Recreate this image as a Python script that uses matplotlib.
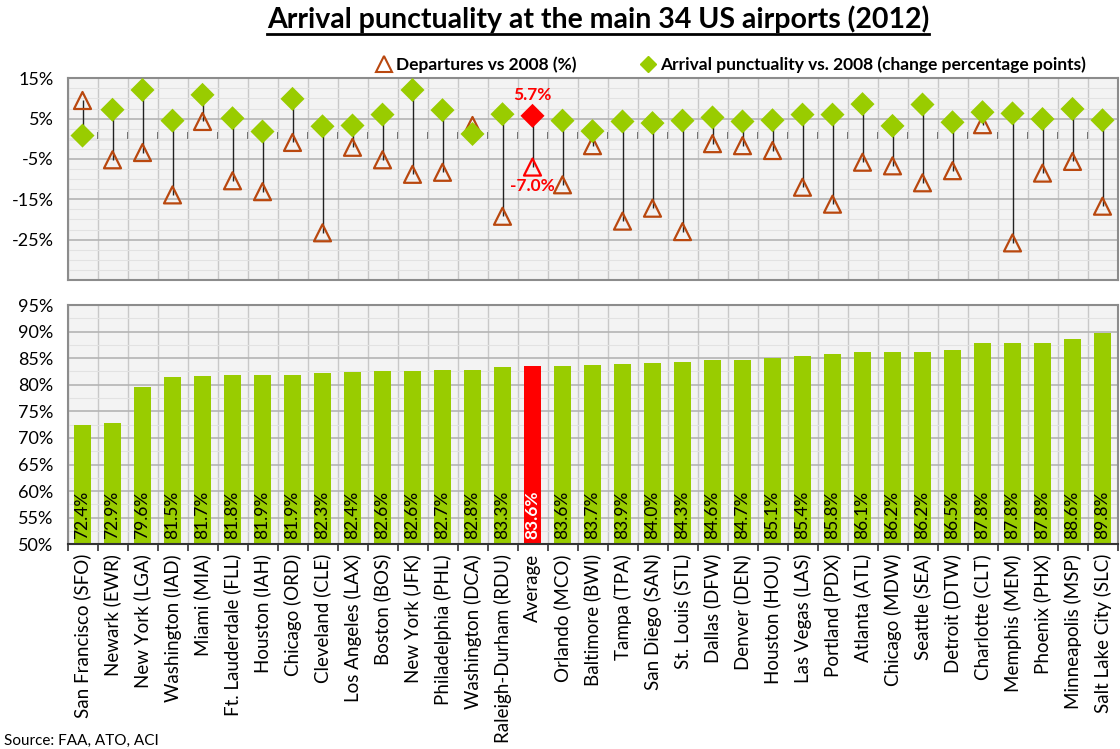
import matplotlib
matplotlib.use("Agg")
import matplotlib.pyplot as plt
from matplotlib.lines import Line2D
from matplotlib.ticker import MultipleLocator, FixedLocator, NullFormatter
import numpy as np

plt.rcParams["font.family"] = ["Lato", "DejaVu Sans"]

airports = [
    "San Francisco (SFO)", "Newark (EWR)", "New York (LGA)", "Washington (IAD)",
    "Miami (MIA)", "Ft. Lauderdale (FLL)", "Houston (IAH)", "Chicago (ORD)",
    "Cleveland (CLE)", "Los Angeles (LAX)", "Boston (BOS)", "New York (JFK)",
    "Philadelphia (PHL)", "Washington (DCA)", "Raleigh-Durham (RDU)", "Average",
    "Orlando (MCO)", "Baltimore (BWI)", "Tampa (TPA)", "San Diego (SAN)",
    "St. Louis (STL)", "Dallas (DFW)", "Denver (DEN)", "Houston (HOU)",
    "Las Vegas (LAS)", "Portland (PDX)", "Atlanta (ATL)", "Chicago (MDW)",
    "Seattle (SEA)", "Detroit (DTW)", "Charlotte (CLT)", "Memphis (MEM)",
    "Phoenix (PHX)", "Minneapolis (MSP)", "Salt Lake City (SLC)",
]
punctuality = [
    72.4, 72.9, 79.6, 81.5, 81.7, 81.8, 81.9, 81.9, 82.3, 82.4, 82.6, 82.6,
    82.7, 82.8, 83.3, 83.6, 83.6, 83.7, 83.9, 84.0, 84.3, 84.6, 84.7, 85.1,
    85.4, 85.8, 86.1, 86.2, 86.2, 86.5, 87.8, 87.8, 87.8, 88.6, 89.8,
]
departures_vs_2008 = [
    9.5, -5.2, -3.4, -13.9, 4.3, -10.4, -13.1, -0.9, -23.3, -2.1, -5.2, -8.8,
    -8.3, 3.3, -19.2, -7.0, -11.4, -1.7, -20.4, -17.2, -23.0, -1.2, -1.7, -2.9,
    -12.0, -16.2, -5.8, -6.7, -10.9, -7.9, 3.5, -25.8, -8.5, -5.6, -16.7,
]
punctuality_change = [
    0.8, 7.2, 12.1, 4.5, 10.9, 5.1, 1.8, 9.9, 3.1, 3.3, 6.0, 12.1,
    7.1, 1.2, 6.1, 5.7, 4.5, 1.9, 4.3, 3.9, 4.5, 5.3, 4.3, 4.6,
    6.0, 6.0, 8.6, 3.2, 8.5, 4.1, 6.6, 6.3, 4.9, 7.4, 4.6,
]
AVG = airports.index("Average")

GREEN = "#99cc00"
RED = "#ff0000"
BROWN = "#b9480f"
FRAME = "#8c8c8c"
BG = "#f3f3f3"

W, H = 1120, 749
fig = plt.figure(figsize=(W / 100, H / 100), dpi=100)

x = np.arange(len(airports))
bounds = np.arange(len(airports) + 1) - 0.5


def style_axes(ax):
    ax.set_facecolor(BG)
    ax.set_xlim(-0.5, len(airports) - 0.5)
    for s in ax.spines.values():
        s.set_color(FRAME)
        s.set_linewidth(1.5)
    ax.xaxis.set_minor_locator(FixedLocator(bounds))
    ax.grid(which="major", axis="y", color="#b4b4b4", lw=1.2, zorder=0)
    ax.grid(which="minor", axis="x", color="#c8c8c8", lw=1.0, zorder=0)
    ax.set_axisbelow(True)
    ax.tick_params(axis="y", which="major", length=0, pad=10, labelsize=13,
                   right=True)


# ---- top panel: change vs 2008 ----
ax1 = fig.add_axes([67.5 / W, 1 - 280 / H, 1050 / W, 201.7 / H])
style_axes(ax1)
ax1.set_ylim(-35, 15)
ax1.yaxis.set_major_locator(FixedLocator([15, 5, -5, -15, -25]))
ax1.yaxis.set_minor_locator(MultipleLocator(2.5))
ax1.grid(which="minor", axis="y", color="#e2e2e2", lw=0.8, zorder=0)
ax1.set_yticklabels(["15%", "5%", "-5%", "-15%", "-25%"])
ax1.set_xticks([])
ax1.tick_params(axis="x", which="minor", length=0)
ax1.tick_params(axis="y", which="minor", length=0)

dep = np.array(departures_vs_2008)
arr = np.array(punctuality_change)
ax1.vlines(x, np.minimum(dep, arr), np.maximum(dep, arr), color="#222222",
           lw=1.0, zorder=3)
zero = ax1.secondary_xaxis(0.7)
zero.set_xticks(bounds)
zero.xaxis.set_major_formatter(NullFormatter())
zero.tick_params(axis="x", direction="out", length=5, width=1.2, color="#444444")
zero.spines["bottom"].set_color("#444444")
zero.spines["bottom"].set_linewidth(1.5)

dep_colors = [RED if i == AVG else BROWN for i in x]
arr_colors = [RED if i == AVG else GREEN for i in x]
ax1.scatter(x, dep, marker="^", s=150, facecolors="none", edgecolors=dep_colors,
            linewidths=1.6, zorder=4)
ax1.scatter(x, arr, marker="D", s=150, color=arr_colors, linewidths=0, zorder=5)
ax1.annotate(f"{punctuality_change[AVG]:.1f}%", (AVG, punctuality_change[AVG]),
             xytext=(0, 9), textcoords="offset points", ha="center",
             va="bottom", color=RED, fontsize=12.5, fontweight="bold")
ax1.annotate(f"{departures_vs_2008[AVG]:.1f}%", (AVG, departures_vs_2008[AVG]),
             xytext=(0, -8), textcoords="offset points", ha="center",
             va="top", color=RED, fontsize=12.5, fontweight="bold")

# ---- bottom panel: punctuality ----
ax2 = fig.add_axes([67.5 / W, 1 - 544.3 / H, 1050 / W, 239.3 / H])
style_axes(ax2)
ax2.set_ylim(50, 95)
ax2.yaxis.set_major_locator(MultipleLocator(5))
ax2.yaxis.set_major_formatter(lambda v, p: f"{v:.0f}%")
ax2.yaxis.set_minor_locator(MultipleLocator(2.5))
ax2.grid(which="minor", axis="y", color="#e2e2e2", lw=0.8, zorder=0)
ax2.tick_params(axis="y", which="minor", length=0)
bar_colors = [RED if i == AVG else GREEN for i in x]
ax2.bar(x, np.array(punctuality) - 50, bottom=50, width=0.59,
        color=bar_colors, zorder=2)
for i, v in enumerate(punctuality):
    avg = i == AVG
    ax2.annotate(f"{v:.1f}%", (i, 50), xytext=(0, 4), textcoords="offset points",
                 rotation=90, ha="center", va="bottom", fontsize=12.5,
                 color="white" if avg else "black",
                 fontweight="bold" if avg else "normal", zorder=3)
ax2.set_xticks(x)
ax2.set_xticklabels(airports, rotation=90, fontsize=13.5)
ax2.tick_params(axis="x", which="major", length=0, pad=7)
ax2.tick_params(axis="x", which="minor", length=5, width=1.2, color="#333333")
ax2.spines["bottom"].set_color("#333333")

# ---- title, legend, source ----
title = fig.text(598 / W, 1 - 19 / H, "Arrival punctuality at the main 34 US airports (2012)",
                 ha="center", va="center", fontsize=20.5, fontweight="bold")
handles = [
    Line2D([], [], marker="^", ls="none", ms=11, mfc="none", mec=BROWN, mew=1.5),
    Line2D([], [], marker="D", ls="none", ms=8, mfc=GREEN, mec=GREEN),
]
fig.legend(handles, ["Departures vs 2008 (%)",
                     "Arrival punctuality vs. 2008 (change percentage points)"],
           loc="center", bbox_to_anchor=(730 / W, 1 - 65 / H), ncol=2,
           frameon=False, prop={"weight": "bold", "size": 12.5},
           handletextpad=0.1, columnspacing=3.5, handlelength=1.2)
fig.text(4 / W, 1 - 748 / H, "Source: FAA, ATO, ACI", ha="left", va="bottom",
         fontsize=11)

fig.canvas.draw()
bb = title.get_window_extent()
fig.add_artist(Line2D([bb.x0 / W, bb.x1 / W], [(bb.y0 - 1) / H] * 2,
                      transform=fig.transFigure, color="black", lw=2))

fig.savefig("out.png", dpi=100)
